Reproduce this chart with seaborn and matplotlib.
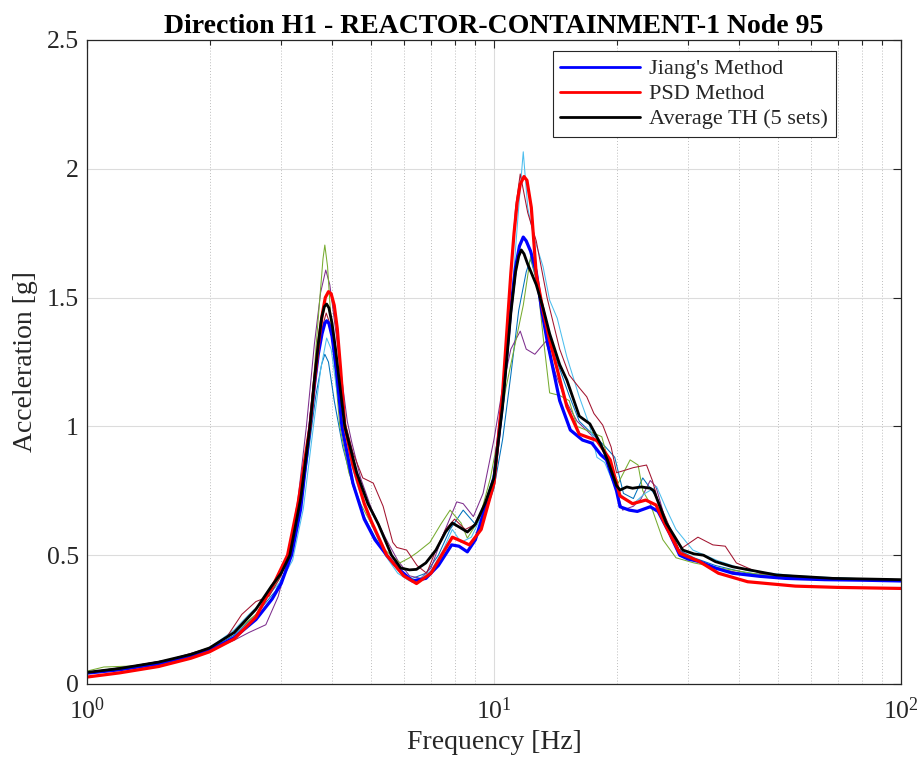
import numpy as np
import pandas as pd
import seaborn as sns
import matplotlib
matplotlib.use("Agg")
import matplotlib.pyplot as plt
from matplotlib.ticker import FixedLocator, FixedFormatter, NullFormatter

# ---------------- data ----------------
title = "Direction H1 - REACTOR-CONTAINMENT-1 Node 95"

# Jiang's method
f_jiang = [1.0, 1.2, 1.5, 1.8, 2.0, 2.3, 2.6, 2.85, 3.0, 3.18, 3.35, 3.53, 3.62, 3.7, 3.78,
           3.84, 3.88, 3.93, 4.0, 4.1, 4.23, 4.5, 4.8, 5.1, 5.45, 5.8, 6.3, 6.8, 7.3, 7.87,
           8.2, 8.6, 9.0, 9.5, 10.0, 10.5, 11.0, 11.3, 11.55, 11.8, 12.0, 12.3, 12.7, 13.1,
           13.5, 14.5, 15.4, 16.5, 17.4, 18.3, 18.9, 20.0, 20.4, 21.5, 22.5, 24.2, 25.3, 27.0,
           28.6, 30.0, 32.0, 35.0, 38.6, 45.0, 52.0, 65.0, 80.0, 100.0]
a_jiang = [0.042, 0.055, 0.078, 0.11, 0.13, 0.18, 0.25, 0.33, 0.39, 0.50, 0.68, 1.00, 1.16,
           1.28, 1.36, 1.40, 1.41, 1.40, 1.35, 1.22, 1.00, 0.78, 0.64, 0.56, 0.50, 0.45, 0.40,
           0.41, 0.46, 0.54, 0.535, 0.513, 0.56, 0.68, 0.80, 1.10, 1.46, 1.62, 1.70, 1.735,
           1.72, 1.68, 1.60, 1.45, 1.335, 1.10, 0.986, 0.947, 0.935, 0.89, 0.87, 0.75, 0.688,
           0.675, 0.67, 0.688, 0.67, 0.585, 0.50, 0.485, 0.475, 0.45, 0.43, 0.418, 0.41, 0.405,
           0.403, 0.40]

# PSD method
f_psd = [1.0, 1.2, 1.5, 1.8, 2.0, 2.3, 2.6, 2.9, 3.11, 3.3, 3.53, 3.62, 3.7, 3.78, 3.85, 3.92,
         3.98, 4.05, 4.12, 4.2, 4.3, 4.5, 4.8, 5.0, 5.45, 6.0, 6.45, 7.0, 7.5, 7.9, 8.3, 8.7,
         9.3, 10.0, 10.5, 11.0, 11.2, 11.4, 11.6, 11.85, 12.05, 12.35, 12.7, 13.2, 13.7, 15.1,
         16.2, 17.9, 19.3, 20.4, 21.9, 23.6, 25.0, 26.5, 28.6, 32.0, 35.6, 42.0, 55.0, 70.0,
         100.0]
a_psd = [0.027, 0.043, 0.068, 0.10, 0.125, 0.175, 0.26, 0.40, 0.50, 0.70, 1.00, 1.17, 1.31,
         1.43, 1.50, 1.523, 1.515, 1.47, 1.38, 1.22, 1.00, 0.85, 0.70, 0.63, 0.50, 0.42, 0.39,
         0.43, 0.51, 0.57, 0.555, 0.54, 0.60, 0.78, 1.13, 1.595, 1.75, 1.87, 1.94, 1.97, 1.955,
         1.85, 1.59, 1.45, 1.335, 1.077, 0.97, 0.945, 0.87, 0.73, 0.70, 0.714, 0.695, 0.61,
         0.508, 0.475, 0.43, 0.397, 0.38, 0.375, 0.371]

# Average of the 5 time-history sets
f_avg = [1.0, 1.2, 1.5, 1.8, 2.0, 2.3, 2.6, 2.84, 3.0, 3.15, 3.35, 3.53, 3.62, 3.7, 3.77, 3.83,
         3.88, 3.93, 4.0, 4.08, 4.15, 4.3, 4.6, 4.9, 5.2, 5.6, 5.9, 6.2, 6.45, 6.8, 7.2, 7.6,
         7.9, 8.2, 8.6, 9.0, 9.5, 10.0, 10.5, 11.0, 11.3, 11.5, 11.67, 11.85, 12.1, 12.4, 12.7,
         13.2, 13.7, 14.5, 15.1, 16.2, 17.2, 18.3, 19.0, 20.0, 20.4, 21.2, 21.9, 23.0, 24.2,
         24.7, 26.5, 29.1, 31.0, 32.7, 35.0, 38.6, 49.5, 68.0, 100.0]
a_avg = [0.045, 0.06, 0.085, 0.115, 0.14, 0.20, 0.29, 0.38, 0.43, 0.50, 0.72, 1.00, 1.18, 1.32,
         1.42, 1.465, 1.475, 1.46, 1.40, 1.30, 1.20, 1.00, 0.82, 0.70, 0.62, 0.50, 0.45, 0.443,
         0.445, 0.47, 0.52, 0.59, 0.625, 0.61, 0.59, 0.62, 0.70, 0.80, 1.08, 1.44, 1.60, 1.66,
         1.685, 1.67, 1.63, 1.59, 1.55, 1.46, 1.36, 1.24, 1.18, 1.04, 1.01, 0.93, 0.87, 0.77,
         0.753, 0.765, 0.76, 0.765, 0.76, 0.75, 0.625, 0.52, 0.505, 0.50, 0.475, 0.455, 0.423,
         0.41, 0.405]

# Individual time-history sets
f_set1 = [1.0, 1.3, 1.6, 2.0, 2.3, 2.6, 2.9, 3.1, 3.3, 3.5, 3.65, 3.77, 3.84, 3.92, 4.05, 4.25,
          4.5, 4.8, 5.1, 5.5, 5.9, 6.3, 6.8, 7.3, 7.8, 8.4, 9.0, 9.5, 10.0, 10.5, 11.0, 11.5,
          12.0, 12.3, 12.8, 13.5, 14.3, 15.3, 16.2, 17.2, 18.0, 18.8, 19.8, 20.8, 22.0, 23.2,
          24.2, 25.2, 26.5, 28.5, 31.0, 35.0, 42.0, 55.0, 75.0, 100.0]
a_set1 = [0.04, 0.065, 0.09, 0.135, 0.19, 0.27, 0.36, 0.45, 0.62, 0.90, 1.12, 1.24, 1.28, 1.25,
          1.10, 0.92, 0.77, 0.65, 0.57, 0.49, 0.43, 0.41, 0.43, 0.50, 0.60, 0.675, 0.62, 0.66,
          0.76, 0.95, 1.20, 1.45, 1.60, 1.65, 1.55, 1.40, 1.25, 1.12, 1.02, 0.98, 0.95, 0.92,
          0.88, 0.74, 0.72, 0.80, 0.76, 0.72, 0.62, 0.52, 0.49, 0.46, 0.43, 0.415, 0.41, 0.405]

f_set2 = [1.0, 1.3, 1.6, 2.0, 2.3, 2.5, 2.75, 2.95, 3.1, 3.3, 3.46, 3.62, 3.75, 3.86, 3.95, 4.1,
          4.36, 4.47, 4.7, 5.0, 5.4, 5.8, 6.2, 6.6, 7.0, 7.5, 8.1, 8.4, 8.9, 9.4, 10.0, 10.5,
          11.0, 11.6, 12.0, 12.6, 13.4, 14.2, 15.0, 16.0, 17.0, 18.0, 19.0, 20.0, 20.7, 22.0,
          23.0, 24.2, 25.0, 26.5, 28.5, 31.0, 35.0, 42.0, 55.0, 75.0, 100.0]
a_set2 = [0.045, 0.07, 0.095, 0.13, 0.17, 0.20, 0.23, 0.34, 0.47, 0.72, 1.00, 1.32, 1.52, 1.607,
          1.55, 1.35, 1.02, 0.94, 0.80, 0.68, 0.57, 0.48, 0.42, 0.41, 0.45, 0.58, 0.707, 0.70,
          0.65, 0.74, 0.95, 1.15, 1.30, 1.37, 1.30, 1.28, 1.33, 1.20, 1.10, 1.02, 0.98, 0.94,
          0.88, 0.75, 0.675, 0.69, 0.72, 0.79, 0.766, 0.625, 0.52, 0.48, 0.45, 0.425, 0.41,
          0.405, 0.402]

f_set3 = [1.0, 1.1, 1.3, 1.6, 2.0, 2.3, 2.6, 2.98, 3.2, 3.4, 3.55, 3.7, 3.8, 3.84, 3.9, 4.0,
          4.18, 4.4, 4.7, 5.0, 5.4, 5.87, 6.2, 6.47, 6.96, 7.4, 7.8, 8.3, 8.6, 9.2, 9.8, 10.3,
          10.7, 11.2, 11.8, 12.3, 12.8, 13.2, 13.7, 14.5, 15.3, 16.0, 17.2, 18.4, 19.3, 20.2,
          21.6, 22.6, 23.2, 24.2, 26.0, 28.0, 31.0, 36.0, 45.0, 60.0, 80.0, 100.0]
a_set3 = [0.05, 0.066, 0.07, 0.09, 0.14, 0.20, 0.27, 0.417, 0.52, 0.75, 1.05, 1.42, 1.65, 1.704,
          1.62, 1.35, 1.00, 0.82, 0.70, 0.62, 0.52, 0.47, 0.49, 0.51, 0.55, 0.62, 0.675, 0.625,
          0.566, 0.64, 0.80, 0.98, 1.15, 1.30, 1.47, 1.66, 1.55, 1.35, 1.13, 1.12, 1.10, 1.00,
          0.98, 0.96, 0.84, 0.78, 0.87, 0.85, 0.75, 0.70, 0.56, 0.49, 0.47, 0.45, 0.425, 0.412,
          0.408, 0.405]

f_set4 = [1.0, 1.3, 1.6, 2.0, 2.3, 2.5, 2.7, 3.0, 3.2, 3.4, 3.6, 3.75, 3.88, 3.98, 4.1, 4.3,
          4.6, 5.0, 5.4, 5.8, 6.2, 6.6, 7.0, 7.5, 7.9, 8.3, 8.8, 9.3, 10.0, 10.5, 11.0, 11.5,
          11.8, 12.1, 12.5, 13.2, 13.7, 14.3, 15.1, 16.2, 17.2, 17.9, 18.7, 20.0, 21.0, 22.0,
          23.5, 25.1, 26.5, 28.0, 30.8, 35.3, 42.0, 55.0, 75.0, 100.0]
a_set4 = [0.045, 0.07, 0.095, 0.14, 0.21, 0.27, 0.32, 0.40, 0.48, 0.68, 1.00, 1.22, 1.343,
          1.30, 1.15, 0.95, 0.78, 0.62, 0.50, 0.43, 0.40, 0.41, 0.44, 0.52, 0.60, 0.55, 0.57,
          0.65, 0.82, 1.05, 1.45, 1.85, 2.066, 1.85, 1.74, 1.62, 1.49, 1.42, 1.27, 1.115, 1.00,
          0.88, 0.86, 0.75, 0.72, 0.70, 0.74, 0.766, 0.68, 0.60, 0.52, 0.48, 0.44, 0.42, 0.41,
          0.405]

f_set5 = [1.0, 1.3, 1.6, 2.0, 2.2, 2.4, 2.6, 2.8, 3.0, 3.3, 3.5, 3.65, 3.78, 3.87, 3.95, 4.1,
          4.3, 4.5, 4.76, 5.05, 5.34, 5.64, 5.77, 6.1, 6.47, 6.83, 7.2, 7.6, 8.0, 8.5, 9.0, 9.5,
          10.0, 10.5, 11.0, 11.3, 11.6, 12.1, 12.7, 13.5, 14.5, 15.3, 16.2, 16.9, 17.6, 18.5,
          19.4, 20.0, 21.0, 22.0, 23.7, 24.5, 25.2, 26.5, 28.5, 31.7, 34.5, 37.0, 39.4, 45.0,
          55.0, 75.0, 100.0]
a_set5 = [0.045, 0.07, 0.095, 0.14, 0.18, 0.27, 0.32, 0.34, 0.42, 0.64, 0.95, 1.20, 1.38, 1.44,
          1.40, 1.22, 1.02, 0.90, 0.80, 0.78, 0.69, 0.55, 0.53, 0.52, 0.46, 0.43, 0.52, 0.60,
          0.64, 0.60, 0.62, 0.68, 0.80, 1.10, 1.60, 1.85, 1.98, 1.83, 1.72, 1.50, 1.30, 1.20,
          1.15, 1.115, 1.05, 1.005, 0.92, 0.82, 0.83, 0.84, 0.85, 0.79, 0.72, 0.64, 0.52, 0.57,
          0.54, 0.535, 0.47, 0.43, 0.415, 0.408, 0.404]

set_colors = ["#0072BD", "#7E2F8E", "#77AC30", "#4DBEEE", "#A2142F"]

x_ticks = [1, 10, 100]
x_tick_labels = [r"$10^{0}$", r"$10^{1}$", r"$10^{2}$"]
y_ticks = [0, 0.5, 1, 1.5, 2, 2.5]
y_tick_labels = ["0", "0.5", "1", "1.5", "2", "2.5"]

# ---------------- style ----------------
sns.set_style("white")
plt.rcParams["font.family"] = ["Liberation Serif", "DejaVu Serif"]
plt.rcParams["mathtext.fontset"] = "custom"
plt.rcParams["mathtext.rm"] = "Liberation Serif"
plt.rcParams["mathtext.it"] = "Liberation Serif:italic"
plt.rcParams["mathtext.bf"] = "Liberation Serif:bold"

ink = "#262626"

fig = plt.figure(figsize=(9.22, 7.65), dpi=100)
ax = fig.add_axes([87 / 922, 1 - 684 / 765, 814 / 922, 644 / 765])

sets = [(f_set1, a_set1), (f_set2, a_set2), (f_set3, a_set3), (f_set4, a_set4), (f_set5, a_set5)]
for (fq, ac), col in zip(sets, set_colors):
    sns.lineplot(x=fq, y=ac, ax=ax, color=col, lw=0.75, sort=False, estimator=None,
                 legend=False)

sns.lineplot(x=f_jiang, y=a_jiang, ax=ax, color="#0000FF", lw=2.3, sort=False,
             estimator=None, label="Jiang's Method")
sns.lineplot(x=f_psd, y=a_psd, ax=ax, color="#FF0000", lw=2.3, sort=False,
             estimator=None, label="PSD Method")
sns.lineplot(x=f_avg, y=a_avg, ax=ax, color="#000000", lw=2.0, sort=False,
             estimator=None, label="Average TH (5 sets)")
for ln in ax.get_lines():
    ln.set_solid_joinstyle("round")

ax.set_xscale("log")
ax.set_xlim(1, 100)
ax.set_ylim(0, 2.5)

ax.xaxis.set_major_locator(FixedLocator(x_ticks))
ax.xaxis.set_major_formatter(FixedFormatter(x_tick_labels))
minor = [m * d for d in (1, 10) for m in range(2, 10)]
ax.xaxis.set_minor_locator(FixedLocator(minor))
ax.xaxis.set_minor_formatter(NullFormatter())
ax.yaxis.set_major_locator(FixedLocator(y_ticks))
ax.yaxis.set_major_formatter(FixedFormatter(y_tick_labels))

ax.grid(True, which="major", color="#DCDCDC", lw=0.8, ls="-")
ax.grid(True, which="minor", axis="x", color="#BDBDBD", lw=0.7, ls=(0, (1, 2)))
ax.set_axisbelow(True)

ax.tick_params(which="both", direction="in", top=True, right=True, colors=ink,
               labelcolor=ink, labelsize=18.5)
ax.tick_params(which="major", length=6, width=0.8)
ax.tick_params(which="minor", length=3.5, width=0.8)
ax.tick_params(axis="x", which="major", pad=10)
ax.tick_params(axis="y", which="major", pad=6)
for s in ax.spines.values():
    s.set_color(ink)
    s.set_linewidth(0.9)

ax.set_xlabel("Frequency [Hz]", fontsize=20, color=ink, labelpad=4)
ax.set_ylabel("Acceleration [g]", fontsize=20, color=ink, labelpad=6)
ax.set_title(title, fontsize=20, fontweight="bold", color="black", pad=5)

leg = ax.legend(loc="upper right", bbox_to_anchor=(0.92, 0.983), fontsize=16,
                frameon=True, fancybox=False, edgecolor=ink, framealpha=1,
                handlelength=3.6, handletextpad=0.4, borderpad=0.35, labelspacing=0.2,
                borderaxespad=0)
leg.get_frame().set_linewidth(0.8)
for h in leg.get_lines():
    h.set_linewidth(2.0)

fig.savefig("out.png", dpi=100)
